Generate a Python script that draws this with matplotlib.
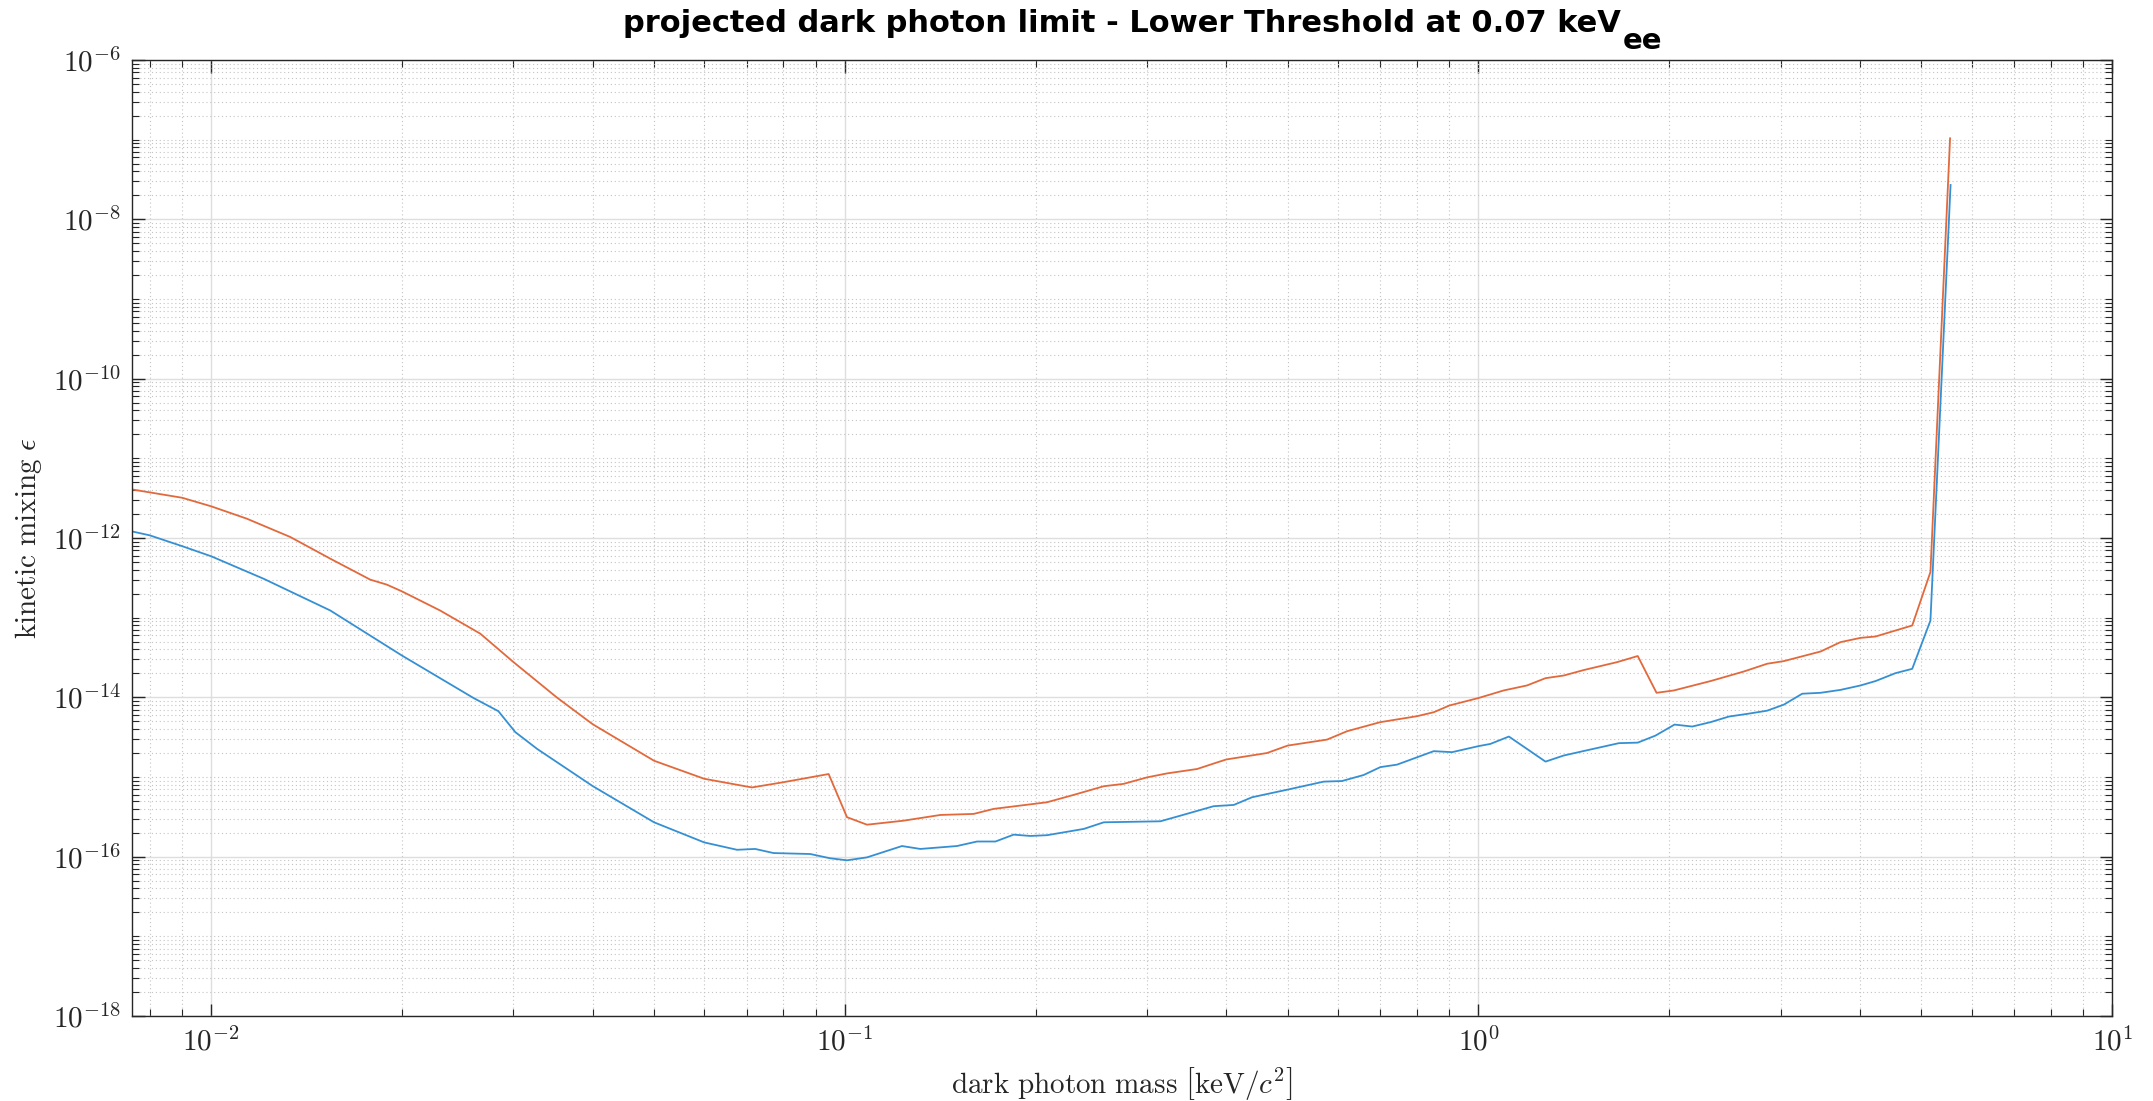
import numpy as np
import matplotlib
matplotlib.use("Agg")
import matplotlib.pyplot as plt
from matplotlib.ticker import FixedLocator, LogLocator, FuncFormatter, NullFormatter

plt.rcParams['mathtext.fontset'] = 'cm'

# ===== data =====
# dark photon mass [keV/c^2] and kinetic mixing limit
mass_orange = [0.0075, 0.0090, 0.0100, 0.01138, 0.01333, 0.01542, 0.01783, 0.01893, 0.0200,
               0.02298, 0.02659, 0.0300, 0.0351, 0.0400, 0.0500, 0.0600, 0.0700, 0.0714,
               0.0800, 0.0943, 0.1008, 0.1084, 0.1238, 0.1416, 0.1597, 0.1718, 0.2085,
               0.2297, 0.2563, 0.2754, 0.3000, 0.3226, 0.3597, 0.3845, 0.4000, 0.4638,
               0.5000, 0.5770, 0.6206, 0.7000, 0.8000, 0.8500, 0.9000, 1.000, 1.096, 1.193,
               1.276, 1.364, 1.466, 1.656, 1.784, 1.910, 2.034, 2.324, 2.623, 2.855, 3.034,
               3.467, 3.727, 4.009, 4.233, 4.837, 5.168, 5.55]
eps_orange = [4.07e-12, 3.2e-12, 2.5e-12, 1.75e-12, 1.03e-12, 5.5e-13, 3.0e-13, 2.6e-13, 2.14e-13,
              1.23e-13, 6.3e-14, 2.77e-14, 1.0e-14, 4.6e-15, 1.6e-15, 9.5e-16, 7.6e-16, 7.4e-16,
              8.6e-16, 1.09e-15, 3.13e-16, 2.52e-16, 2.83e-16, 3.34e-16, 3.44e-16, 3.98e-16, 4.82e-16,
              5.96e-16, 7.66e-16, 8.2e-16, 9.9e-16, 1.11e-15, 1.26e-15, 1.5e-15, 1.66e-15, 2.0e-15,
              2.48e-15, 2.95e-15, 3.76e-15, 4.88e-15, 5.8e-15, 6.5e-15, 7.9e-15, 9.8e-15, 1.22e-14, 1.41e-14,
              1.74e-14, 1.88e-14, 2.2e-14, 2.77e-14, 3.3e-14, 1.14e-14, 1.22e-14, 1.6e-14, 2.11e-14, 2.64e-14, 2.85e-14,
              3.76e-14, 4.93e-14, 5.58e-14, 5.8e-14, 7.98e-14, 3.74e-13, 1.04e-7]

mass_blue = [0.0075, 0.0080, 0.0090, 0.0100, 0.0121, 0.01542, 0.0200, 0.02595, 0.0284, 0.0302,
             0.0327, 0.0400, 0.0500, 0.0600, 0.0676, 0.0722, 0.0772, 0.0882, 0.0948, 0.1008,
             0.1084, 0.1231, 0.1316, 0.1503, 0.1617, 0.1729, 0.1847, 0.1963, 0.2085, 0.2383,
             0.2563, 0.3148, 0.3385, 0.3820, 0.4110, 0.4393, 0.5000, 0.5700, 0.6090, 0.6590,
             0.7000, 0.7440, 0.8500, 0.9087, 1.000, 1.044, 1.117, 1.276, 1.363, 1.466, 1.666,
             1.784, 1.903, 2.039, 2.175, 2.324, 2.485, 2.656, 2.855, 3.034, 3.243, 3.467,
             3.727, 4.009, 4.233, 4.550, 4.837, 5.168, 5.56]
eps_blue = [1.21e-12, 1.08e-12, 7.9e-13, 5.9e-13, 3.08e-13, 1.23e-13, 3.35e-14, 9.8e-15, 6.7e-15, 3.66e-15,
            2.25e-15, 7.7e-16, 2.7e-16, 1.51e-16, 1.22e-16, 1.25e-16, 1.11e-16, 1.08e-16, 9.55e-17, 9.0e-17,
            9.8e-17, 1.36e-16, 1.25e-16, 1.36e-16, 1.55e-16, 1.55e-16, 1.89e-16, 1.82e-16, 1.86e-16, 2.23e-16,
            2.7e-16, 2.78e-16, 3.27e-16, 4.3e-16, 4.46e-16, 5.57e-16, 6.95e-16, 8.75e-16, 8.9e-16, 1.06e-15,
            1.33e-15, 1.43e-15, 2.11e-15, 2.05e-15, 2.44e-15, 2.6e-15, 3.22e-15, 1.56e-15, 1.86e-15, 2.12e-15, 2.66e-15,
            2.7e-15, 3.31e-15, 4.55e-15, 4.3e-15, 4.88e-15, 5.74e-15, 6.2e-15, 6.8e-15, 8.1e-15, 1.11e-14, 1.14e-14,
            1.24e-14, 1.41e-14, 1.6e-14, 2.01e-14, 2.28e-14, 9.2e-14, 2.7e-8]

y_major = [1e-18, 1e-16, 1e-14, 1e-12, 1e-10, 1e-8, 1e-6]
x_major = [1e-2, 1e-1, 1e0, 1e1]

title_main = "projected dark photon limit - Lower Threshold at 0.07 keV"
title_sub = "ee"

# ===== figure =====
fig = plt.figure(figsize=(21.53, 11.01), dpi=100)
ax = fig.add_axes([0.0613, 0.0772, 0.9197, 0.8683])

ax.loglog(mass_blue, eps_blue, color='#3590d3', lw=1.3)
ax.loglog(mass_orange, eps_orange, color='#e2693c', lw=1.3)

ax.set_xlim(0.0075, 10)
ax.set_ylim(1e-18, 1e-6)

ax.yaxis.set_major_locator(FixedLocator(y_major))
ax.xaxis.set_major_locator(FixedLocator(x_major))
ax.yaxis.set_minor_locator(LogLocator(base=10, subs=np.arange(1, 10), numticks=100))
ax.xaxis.set_minor_locator(LogLocator(base=10, subs=np.arange(2, 10), numticks=100))
ax.xaxis.set_minor_formatter(NullFormatter())
ax.yaxis.set_minor_formatter(NullFormatter())

fmt = FuncFormatter(lambda v, p: r'$10^{%d}$' % int(round(np.log10(v))))
ax.xaxis.set_major_formatter(fmt)
ax.yaxis.set_major_formatter(fmt)

ax.tick_params(which='both', direction='in', top=True, right=True, colors='#262626',
               labelcolor='#262626')
ax.tick_params(which='major', length=9, width=1.0, labelsize=21, pad=8)
ax.tick_params(which='minor', length=5, width=0.8)

ax.grid(which='major', color='#dedede', lw=1.0, ls='-')
ax.grid(which='minor', color='#c4c4c4', lw=0.8, ls=(0, (1, 2.5)))
ax.set_axisbelow(True)

for s in ax.spines.values():
    s.set_color('#262626')
    s.set_linewidth(1.0)

ax.set_xlabel(r'$\mathrm{dark\ photon\ mass}\ \left[\mathrm{keV}/c^2\right]$',
              fontsize=21, color='#262626', labelpad=6)
ax.set_ylabel(r'$\mathrm{kinetic\ mixing}\ \epsilon$', fontsize=21, color='#262626', labelpad=6)

t = ax.set_title(title_main, fontsize=22, fontweight='bold', family='DejaVu Sans', pad=20)
ax.annotate(title_sub, xy=(1, 0), xycoords=t, xytext=(1, -8), textcoords='offset points',
            fontsize=21, fontweight='bold', family='DejaVu Sans', ha='left', va='baseline')

fig.savefig("out.png", dpi=100)
